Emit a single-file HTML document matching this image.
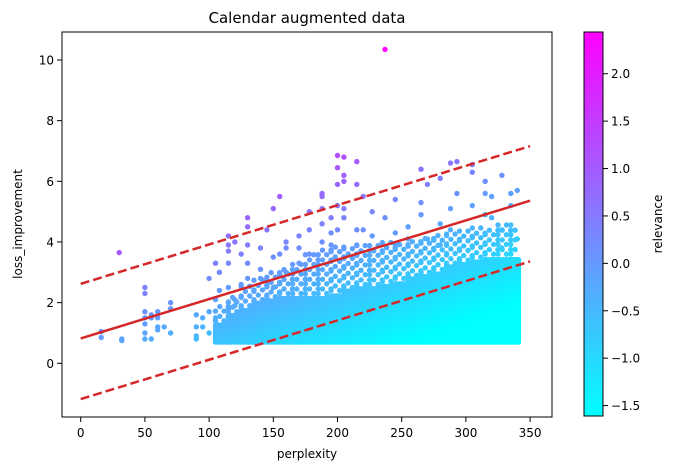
<!DOCTYPE html>
<html><head><meta charset="utf-8">
<style>
body{margin:0;background:#fff;}
svg{display:block;font-family:"DejaVu Sans","Liberation Sans",sans-serif;}
</style></head>
<body>
<svg id="chart" width="676" height="470" viewBox="0 0 676 470">
<defs>
<linearGradient id="cbgrad" x1="0" y1="1" x2="0" y2="0">
<stop offset="0" stop-color="#00ffff"/><stop offset="1" stop-color="#ff00ff"/>
</linearGradient>
<clipPath id="plotclip"><rect x="62" y="32" width="490" height="385"/></clipPath>
</defs>
<rect x="0" y="0" width="676" height="470" fill="#fff"/>
<text x="307" y="23" font-size="15" text-anchor="middle">Calendar augmented data</text>
<g id="points" clip-path="url(#plotclip)"></g>
<g id="lines" clip-path="url(#plotclip)"></g>
<rect x="62" y="32" width="490" height="385" fill="none" stroke="#000" stroke-width="1"/>
<g id="xaxis"></g>
<g id="yaxis"></g>
<text x="307" y="458" font-size="12" text-anchor="middle">perplexity</text>
<text transform="translate(22,224) rotate(-90)" font-size="12" text-anchor="middle">loss_improvement</text>
<rect x="584" y="32" width="19" height="384" fill="url(#cbgrad)" stroke="#000" stroke-width="1"/>
<g id="cbaxis"></g>
<text transform="translate(662,224) rotate(-90)" font-size="12" text-anchor="middle">relevance</text>
</svg>
<script>
const xTicks=[0,50,100,150,200,250,300,350];
const yTicks=[0,2,4,6,8,10];
const cbTicks=[2.0,1.5,1.0,0.5,0.0,-0.5,-1.0,-1.5];
const cbTickLabels=["2.0","1.5","1.0","0.5","0.0","\u22120.5","\u22121.0","\u22121.5"];
const fitIntercept=0.82;
const fitSlope=(5.36-0.82)/350;
const upperOffset=1.8;
const lowerOffset=-2.0;
const outPerp=[30,16,16,32,32,50,50,50,50,50,50,50,55,55,55,60,60,60,60,65,70,70,70,90,90,90,90,95,95,100,100,100,105,105,105,105,105,108,108,115,115,115,115,115,115,115,115,120,120,120,125,125,125,130,130,130,130,130,140,140,140,145,145,150,150,150,155,155,160,160,160,170,170,170,178,178,178,188,188,188,188,188,195,195,195,200,200,200,200,200,205,205,205,205,205,215,215,215,215,220,220,227,227,237,237,245,245,245,255,255,255,265,265,265,270,270,280,280,280,288,288,288,293,293,305,305,305,315,315,315,320,320,328,328,328,335,335,335,340,340];
const outLoss=[3.65,1.05,0.85,0.8,0.75,1.7,1.5,2.5,2.3,1.3,1.0,0.8,1.6,1.5,0.8,1.7,1.5,1.1,1.2,1.2,2.0,1.8,1.0,1.6,1.2,0.9,0.8,1.5,1.2,1.7,1.0,2.8,3.3,2.1,1.5,1.1,0.9,2.4,3.0,2.0,2.5,3.9,4.2,3.7,3.3,1.8,1.4,4.0,2.1,1.9,2.2,2.6,3.6,4.5,4.8,3.9,3.3,2.8,3.8,2.8,3.1,4.4,2.7,5.1,2.5,3.5,5.5,3.6,3.0,3.8,4.0,3.8,4.2,3.3,5.0,4.4,3.6,5.6,5.5,5.1,4.6,4.0,4.8,4.3,3.9,6.85,6.45,5.9,5.2,4.4,6.8,6.2,6.0,5.1,4.8,6.65,5.9,4.4,3.9,5.5,4.4,5.0,4.2,10.35,4.8,5.4,4.3,3.9,4.5,3.6,4.1,6.4,5.3,4.9,5.9,4.1,6.1,4.6,3.9,6.6,5.1,4.4,6.65,5.6,6.55,6.3,5.2,6.0,5.6,4.9,5.5,4.8,6.2,4.4,3.8,5.6,5.2,3.4,5.7,4.1];
const binPerp=[110,120,130,140,150,160,170,180,190,200,210,220,230,240,250,260,270,280,290,300,310,320,330,340];
const denseTop=[1.3,1.6,1.8,2.0,2.1,2.2,2.2,2.2,2.2,2.3,2.4,2.5,2.5,2.6,2.7,2.8,2.9,3.0,3.2,3.3,3.4,3.5,3.5,3.5];
const sparseTop=[2.0,2.3,2.6,2.8,3.0,3.2,3.4,3.6,3.8,3.9,3.9,4.0,4.0,4.0,4.0,4.1,4.2,4.3,4.4,4.4,4.5,4.5,4.6,4.6];
const lossFloor=0.7;
const relMin=-1.61, relMax=2.44;

function xs(v){return 80.7+v*1.284;}
function ys(v){return 363.3-v*30.33;}
function cbs(v){return 32+(relMax-v)/(relMax-relMin)*384;}
function relOf(p,l){return 0.404*l-0.00637*p-0.277;}
function color(p,l){let t=(relOf(p,l)-relMin)/(relMax-relMin);t=Math.max(0,Math.min(1,t));return 'rgb('+Math.round(255*t)+','+Math.round(255*(1-t))+',255)';}
const NS='http://www.w3.org/2000/svg';
function mk(tag,attrs,parent){const e=document.createElementNS(NS,tag);for(const k in attrs)e.setAttribute(k,attrs[k]);parent.appendChild(e);return e;}
const gp=document.getElementById('points');
function dot(p,l,name){const c=mk('circle',{cx:xs(p).toFixed(1),cy:ys(l).toFixed(1),r:2.7,fill:color(p,l)},gp);

}
for(let i=0;i<binPerp.length;i++){
  for(let dp=-5;dp<5;dp+=2){
    const p=binPerp[i]+dp;
    if(p>341)continue;
    for(let l=lossFloor;l<=denseTop[i];l+=0.08){dot(p,l,'dense-point');}
  }
  let k=0;
  for(let dp=-5;dp<5;dp+=3.3){
    const p=binPerp[i]+dp;
    if(p>341)continue;
    k++;
    for(let l=denseTop[i]+((k%2)?0.1:0.25);l<=sparseTop[i];l+=0.32){dot(p,l,'sparse-point');}
  }
}
for(let i=0;i<outPerp.length;i++){dot(outPerp[i],outLoss[i],'outlier-point');}
const gl=document.getElementById('lines');
function line(off,dash,name){const e=mk('line',{x1:xs(0),y1:ys(fitIntercept+off),x2:xs(350),y2:ys(fitIntercept+off+fitSlope*350),stroke:'#d62728','stroke-width':2.5},gl);
if(dash)e.setAttribute('stroke-dasharray','9,4');

}
line(0,false,'fit-line');
line(upperOffset,true,'upper-band-line');
line(lowerOffset,true,'lower-band-line');
const gx=document.getElementById('xaxis');
xTicks.forEach(v=>{const x=xs(v);
const t=mk('line',{x1:x,y1:417,x2:x,y2:422,stroke:'#000'},gx);


const tx=mk('text',{x:x,y:437,'font-size':12,'text-anchor':'middle'},gx);tx.textContent=v;

});
const gy=document.getElementById('yaxis');
yTicks.forEach(v=>{const y=ys(v);
const t=mk('line',{x1:57,y1:y,x2:62,y2:y,stroke:'#000'},gy);


const tx=mk('text',{x:54,y:y+4.5,'font-size':12,'text-anchor':'end'},gy);tx.textContent=v;

});
const gc=document.getElementById('cbaxis');
cbTicks.forEach((v,i)=>{const y=cbs(v);
const t=mk('line',{x1:603,y1:y,x2:608,y2:y,stroke:'#000'},gc);


const tx=mk('text',{x:611,y:y+4.5,'font-size':12},gc);tx.textContent=cbTickLabels[i];

});
</script>
</body></html>
